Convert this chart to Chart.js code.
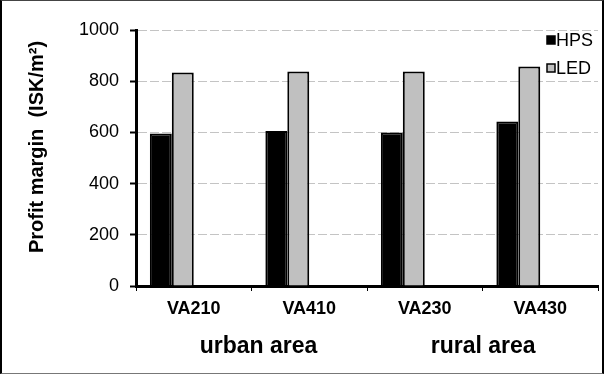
<!DOCTYPE html>
<html>
<head>
<meta charset="utf-8">
<script src="https://cdn.jsdelivr.net/npm/chart.js@4/dist/chart.umd.min.js"></script>
<style>
  html, body { margin: 0; padding: 0; background: #fff; }
  #wrap { position: relative; width: 605px; height: 376px; }
  #frame { position: absolute; left: 0; top: 0; width: 600px; height: 372px;
           border-left: 2px solid #000; border-top: 1px solid #444;
           border-right: 2px solid #000; border-bottom: 1px solid #777; pointer-events: none; }
  canvas { display: block; }
</style>
</head>
<body>
<div id="wrap">
  <canvas id="c" width="605" height="376"></canvas>
  <div id="frame"></div>
</div>
<script>
// ---- data ----
const categories = ['VA210', 'VA410', 'VA230', 'VA430'];
const hpsValues  = [596, 605, 600, 643];
const ledValues  = [834, 838, 838, 857];
const seriesNames = ['HPS', 'LED'];
const yTicks = [0, 200, 400, 600, 800, 1000];
const groupNames = ['urban area', 'rural area'];
const groupFirstCategory = [0, 2];
const yTitle = 'Profit margin  (ISK/m\u00B2)';

const FONT = "'Liberation Sans', Arial, sans-serif";

const overlay = {
  id: 'overlay',
  afterDraw(chart) {
    const ctx = chart.ctx;
    const ca = chart.chartArea;
    const xs = chart.scales.x;
    ctx.save();
    // y-axis title
    ctx.translate(37, (ca.top + ca.bottom) / 2 - 11);
    ctx.rotate(-Math.PI / 2);
    ctx.fillStyle = '#000';
    ctx.font = 'bold 20px ' + FONT;
    ctx.textAlign = 'center';
    ctx.textBaseline = 'middle';
    ctx.fillText(yTitle, 0, 0);
    ctx.restore();

    // group labels
    ctx.save();
    ctx.fillStyle = '#000';
    ctx.font = 'bold 23px ' + FONT;
    ctx.textAlign = 'left';
    ctx.textBaseline = 'middle';
    groupNames.forEach((g, i) => {
      const x = xs.getPixelForValue(groupFirstCategory[i]) + 6;
      ctx.fillText(g, x, 347);
    });
    ctx.restore();

    // legend (vertical, top-right inside plot)
    ctx.save();
    ctx.font = '18px ' + FONT;
    ctx.textAlign = 'left';
    ctx.textBaseline = 'middle';
    seriesNames.forEach((n, i) => {
      const ds = chart.data.datasets[i];
      const y = 40 + i * 28;
      ctx.fillStyle = ds.backgroundColor;
      ctx.fillRect(547, y - 4, 8, 8);
      ctx.strokeStyle = '#000';
      ctx.lineWidth = 1.5;
      ctx.strokeRect(547, y - 4, 8, 8);
      ctx.fillStyle = '#000';
      ctx.fillText(n, 556, y + 1);
    });
    ctx.restore();
  }
};

new Chart(document.getElementById('c'), {
  type: 'bar',
  data: {
    labels: categories,
    datasets: [
      { label: seriesNames[0], data: hpsValues, backgroundColor: '#000000', borderColor: '#000000', borderWidth: 2 },
      { label: seriesNames[1], data: ledValues, backgroundColor: '#c0c0c0', borderColor: '#000000', borderWidth: 2 },
      { label: '', data: categories.map(() => null), backgroundColor: 'rgba(0,0,0,0)' },
      { label: '', data: categories.map(() => null), backgroundColor: 'rgba(0,0,0,0)' }
    ]
  },
  options: {
    responsive: false,
    animation: false,
    events: [],
    layout: { padding: { left: 0, top: 30, right: 7, bottom: 0 } },
    datasets: { bar: { categoryPercentage: 0.76, barPercentage: 1.0 } },
    plugins: { legend: { display: false }, tooltip: { enabled: false } },
    scales: {
      x: {
        afterFit(s) { s.height = 90; },
        offset: true,
        grid: { display: true, offset: true, drawOnChartArea: false, drawTicks: true,
                tickLength: 5, tickColor: '#000', tickWidth: 1 },
        border: { display: true, color: '#000', width: 3 },
        ticks: { color: '#000', font: { family: FONT, size: 18, weight: 'bold' }, padding: 7, maxRotation: 0 }
      },
      y: {
        min: 0, max: 1000,
        afterFit(s) { s.width = 136; },
        afterBuildTicks(s) { s.ticks = yTicks.map(v => ({ value: v })); },
        grid: { color: '#c4c4c4', lineWidth: 1, drawTicks: true, tickLength: 6,
                tickColor: '#000', tickWidth: 2 },
        border: { display: true, color: '#000', width: 3, dash: [9, 3] },
        ticks: { color: '#000', font: { family: FONT, size: 18 }, padding: 11,
                 callback: (v) => String(v) }
      }
    }
  },
  plugins: [overlay]
});
</script>
</body>
</html>
